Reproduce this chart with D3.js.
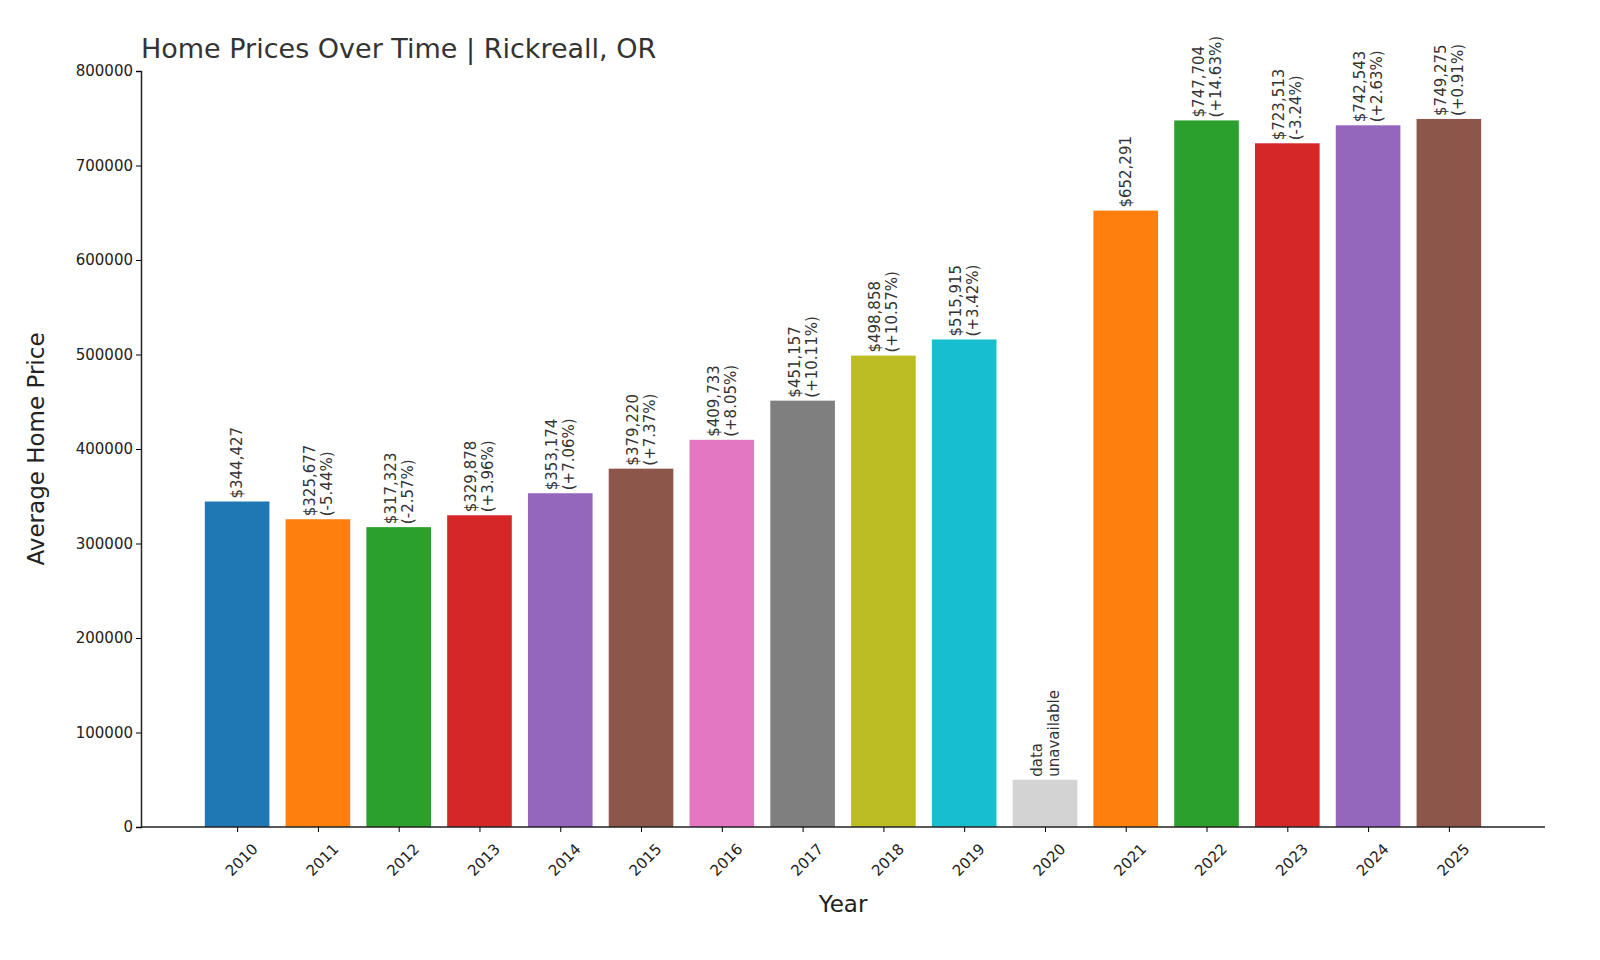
<!DOCTYPE html>
<html><head><meta charset="utf-8">
<script src="https://cdn.jsdelivr.net/npm/d3@7"></script>
<style>body{margin:0;background:#fff;font-family:"DejaVu Sans",sans-serif}</style>
</head><body><svg id="c" width="1600" height="960"></svg>
<script>
const years=[2010,2011,2012,2013,2014,2015,2016,2017,2018,2019,2020,2021,2022,2023,2024,2025];
const values=[344427,325677,317323,329878,353174,379220,409733,451157,498858,515915,50000,652291,747704,723513,742543,749275];
const priceLabels=["$344,427","$325,677","$317,323","$329,878","$353,174","$379,220","$409,733","$451,157","$498,858","$515,915","data","$652,291","$747,704","$723,513","$742,543","$749,275"];
const pctLabels=["","(-5.44%)","(-2.57%)","(+3.96%)","(+7.06%)","(+7.37%)","(+8.05%)","(+10.11%)","(+10.57%)","(+3.42%)","unavailable","","(+14.63%)","(-3.24%)","(+2.63%)","(+0.91%)"];
const colors=["#1f77b4","#ff7f0e","#2ca02c","#d62728","#9467bd","#8c564b","#e377c2","#7f7f7f","#bcbd22","#17becf","#d3d3d3","#ff7f0e","#2ca02c","#d62728","#9467bd","#8c564b"];
const yTicks=[0,100000,200000,300000,400000,500000,600000,700000,800000];

const svg=d3.select("#c");
const x=d3.scaleLinear().domain([-1.19,16.19]).range([141,1545]);
const y=d3.scaleLinear().domain([0,800000]).range([827,71]);
const bw=(x(0.8)-x(0));
const g=svg.append("g");
g.selectAll("rect").data(values).join("rect")
 .attr("x",(d,i)=>x(i)-bw/2).attr("width",bw)
 .attr("y",d=>y(d)).attr("height",d=>827-y(d))
 .attr("fill",(d,i)=>colors[i]);
// labels
values.forEach((v,i)=>{
  const t=g.append("text").attr("transform",`translate(${x(i)},${y(v)-3}) rotate(-90)`)
   .attr("fill","#333").style("font-size","15px");
  if(pctLabels[i]===""){
    t.append("tspan").attr("x",0).attr("y",5).text(priceLabels[i]);
  } else {
    t.append("tspan").attr("x",0).attr("y",-3).text(priceLabels[i]);
    t.append("tspan").attr("x",0).attr("y",14).text(pctLabels[i]);
  }
});
// axes
const ya=svg.append("g").attr("transform","translate(141,0)")
 .call(d3.axisLeft(y).tickValues(yTicks).tickFormat(d3.format("d")).tickSizeOuter(0).tickSize(5));
ya.selectAll("text").style("font-size","15px").attr("fill","#222").style("font-family","DejaVu Sans");
const xa=svg.append("g").attr("transform","translate(0,827)")
 .call(d3.axisBottom(x).tickValues(d3.range(16)).tickFormat(i=>years[i]).tickSizeOuter(0).tickSize(5));
xa.select(".domain").attr("d","M141,0H1545");
xa.selectAll("text").style("font-size","15px").attr("fill","#222").style("font-family","DejaVu Sans")
 .attr("text-anchor","end").attr("transform","translate(8,10) rotate(-45)").attr("dy","0.7em");
svg.selectAll(".domain").attr("stroke","#222").attr("stroke-width",1.5);
svg.append("text").attr("x",141).attr("y",58).attr("fill","#333").style("font-size","27px").text("Home Prices Over Time | Rickreall, OR");
svg.append("text").attr("x",843).attr("y",912).attr("text-anchor","middle").attr("fill","#222").style("font-size","23px").text("Year");
svg.append("text").attr("transform","translate(44,449) rotate(-90)").attr("text-anchor","middle").attr("fill","#222").style("font-size","23px").text("Average Home Price");
</script></body></html>
